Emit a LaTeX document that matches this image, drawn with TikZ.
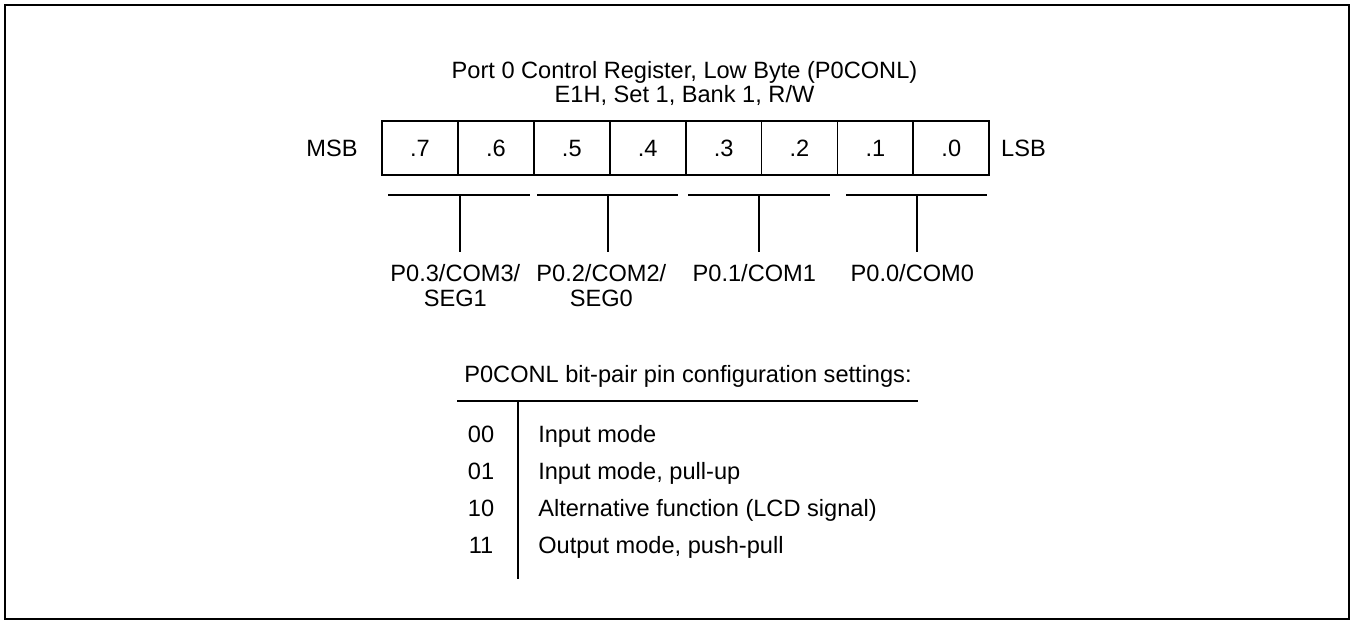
\documentclass[tikz,border=0pt]{standalone}
\usepackage{fontspec}
\setmainfont{Liberation Sans}
\usetikzlibrary{positioning,calc}
\tikzset{
  txt/.style={font=\fontsize{17.7}{18.75}\selectfont,inner sep=0pt,align=center},
  bitcell/.style={draw,line width=1.3pt,minimum width=56.93pt,minimum height=40.5pt,
    inner sep=0pt,font=\fontsize{17.7}{18.75}\selectfont},
  frameline/.style={line width=2pt},
  pairline/.style={line width=1.6pt},
  tickline/.style={line width=0.9pt}
}
\begin{document}
\begin{tikzpicture}[x=0.75pt,y=-0.75pt]
  \useasboundingbox (0,0) rectangle (1355,622);
  \draw[frameline] (5,5) rectangle (1349,619);

  % register heading
  \node[txt] (title) at (684.5,72) {Port 0 Control Register, Low Byte (P0CONL)};
  \node[txt] (addr) at (684.5,95) {E1H, Set 1, Bank 1, R/W};

  % bit cells
  \foreach \b [count=\i from 0] in {7,...,0}
    \node[bitcell] (b\b) at ({420+75.9*\i},148) {.\b};
  \node[txt] (msb) at (332,148) {MSB};
  \node[txt] (lsb) at (1023.5,148) {LSB};

  % bit pairs
  \foreach \n/\l/\r/\m in {3/388/530/460,2/537/678/608,1/688/830/759,0/846/987/917} {
    \draw[pairline] (\l,195) -- (\r,195);
    \coordinate (t\n) at (\m,195);
    \coordinate (f\n) at (\m,252);
    \draw[tickline] (t\n) -- (f\n);
  }
  \node[txt,below=9pt of f3,xshift=-3.5pt] (p3) {P0.3/COM3/\\SEG1};
  \node[txt,below=9pt of f2,xshift=-5pt] (p2) {P0.2/COM2/\\SEG0};
  \node[txt,below=9pt of f1,xshift=-3.5pt] (p1) {P0.1/COM1};
  \node[txt,below=9pt of f0,xshift=-3.5pt] (p0) {P0.0/COM0};

  % settings table
  \node[txt] (cfg) at (688,376) {P0CONL bit-pair pin configuration settings:};
  \coordinate (hl) at (457,401);
  \coordinate (hr) at (918,401);
  \coordinate (vt) at (518,401);
  \coordinate (vb) at (518,579);
  \draw[pairline] (hl) -- (hr);
  \draw[tickline] (vt) -- (vb);
  \foreach \c/\d [count=\k from 0] in {00/Input mode,01/{Input mode, pull-up},
      10/Alternative function (LCD signal),11/{Output mode, push-pull}} {
    \node[txt,anchor=base] (c\c) at (481,{442.5+37*\k}) {\c};
    \node[txt,anchor=base west] (d\c) at (538,{442.5+37*\k}) {\d};
  }
\end{tikzpicture}
\end{document}
